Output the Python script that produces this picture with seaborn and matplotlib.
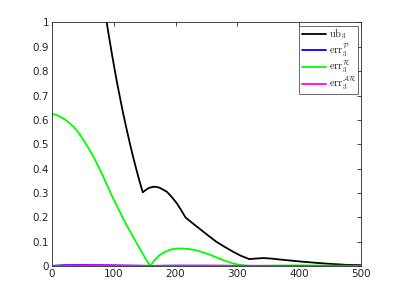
import numpy as np
import pandas as pd
import matplotlib
matplotlib.use('Agg')
import matplotlib.pyplot as plt
import seaborn as sns

# curve values
ub_x = [60, 70, 80, 88, 92.5, 97, 101, 105, 110, 115, 120.5, 126, 131.5, 137, 142, 147, 152, 158,
        166, 174, 186, 194, 202, 209, 216, 228, 240, 253, 266, 280, 293, 306, 319, 330, 342,
        355, 369, 385, 401, 420, 445, 477, 500]
ub_y = [1.546, 1.336, 1.146, 1.01, 0.94, 0.872, 0.814, 0.758, 0.693, 0.63, 0.566, 0.505, 0.447,
        0.393, 0.346, 0.303, 0.313, 0.322, 0.326, 0.322, 0.305, 0.283, 0.258, 0.23, 0.20, 0.175,
        0.151, 0.125, 0.10, 0.078, 0.059, 0.042, 0.029, 0.031, 0.033, 0.031, 0.027, 0.023,
        0.019, 0.015, 0.010, 0.005, 0.004]

errR_x = [0, 8, 18, 26, 35, 43, 51, 59, 67, 75, 83, 91, 99, 107, 115, 123, 131, 138, 145, 151,
          159, 166, 174, 183, 192, 202, 212, 222, 231, 240, 253, 266, 280, 293, 302, 310, 320,
          335, 360, 400, 450, 500]
errR_y = [0.625, 0.62, 0.607, 0.592, 0.572, 0.548, 0.518, 0.485, 0.45, 0.41, 0.367, 0.322,
          0.278, 0.237, 0.196, 0.158, 0.121, 0.09, 0.059, 0.033, 0.0, 0.025, 0.045, 0.059, 0.068,
          0.072, 0.072, 0.07, 0.066, 0.06, 0.049, 0.036, 0.022, 0.011, 0.006, 0.003, 0.001,
          0.001, 0.002, 0.003, 0.002, 0.001]

errP_x = [0, 20, 50, 80, 120, 160, 200, 300, 400, 500]
errP_y = [0.001, 0.004, 0.005, 0.004, 0.002, 0.001, 0.002, 0.001, 0.001, 0.0]

errAR_x = [0, 30, 60, 100, 160, 250, 350, 500]
errAR_y = [0.0, 0.003, 0.004, 0.003, 0.001, 0.002, 0.001, 0.0]

labels = [r'$\mathrm{ub}_3$', r'$\mathrm{err}_3^{\mathcal{P}}$',
          r'$\mathrm{err}_3^{\mathcal{R}}$', r'$\mathrm{err}_3^{\mathcal{AR}}$']
colors = ['#000000', '#0000ff', '#00ff00', '#ff00ff']

frames = []
for lab, xs, ys in zip(labels, [ub_x, errP_x, errR_x, errAR_x], [ub_y, errP_y, errR_y, errAR_y]):
    frames.append(pd.DataFrame({'x': xs, 'y': ys, 'series': lab}))
df = pd.concat(frames, ignore_index=True)

sns.set_style('white')
plt.rcParams['font.family'] = ['DejaVu Sans']
plt.rcParams['mathtext.fontset'] = 'cm'

fig = plt.figure(figsize=(3.99, 2.99), dpi=100)
ax = fig.add_axes([0.13, 0.11, 0.775, 0.815])
sns.lineplot(data=df, x='x', y='y', hue='series', palette=dict(zip(labels, colors)),
             hue_order=labels, sort=False, estimator=None, lw=1.3, ax=ax)

ax.set_xlim(0, 500)
ax.set_ylim(0, 1)
ax.set_xticks(np.arange(0, 501, 100))
ax.set_yticks(np.round(np.arange(0, 1.01, 0.1), 1))
ax.set_yticklabels(['0'] + ['%.1f' % v for v in np.arange(0.1, 0.95, 0.1)] + ['1'])
ax.set_xlabel('')
ax.set_ylabel('')
gray = '#262626'
for s in ax.spines.values():
    s.set_color(gray)
    s.set_linewidth(0.6)
ax.tick_params(direction='in', length=3, width=0.6, top=True, right=True,
               labelsize=7.5, colors=gray, pad=2)

leg = ax.legend(loc='upper right', fontsize=7.5, frameon=True, fancybox=False,
                handlelength=2.3, borderpad=0.2, labelspacing=0.0, handletextpad=0.3,
                borderaxespad=0.3)
leg.get_frame().set_edgecolor(gray)
leg.get_frame().set_linewidth(0.6)

fig.savefig('out.png', dpi=100)
